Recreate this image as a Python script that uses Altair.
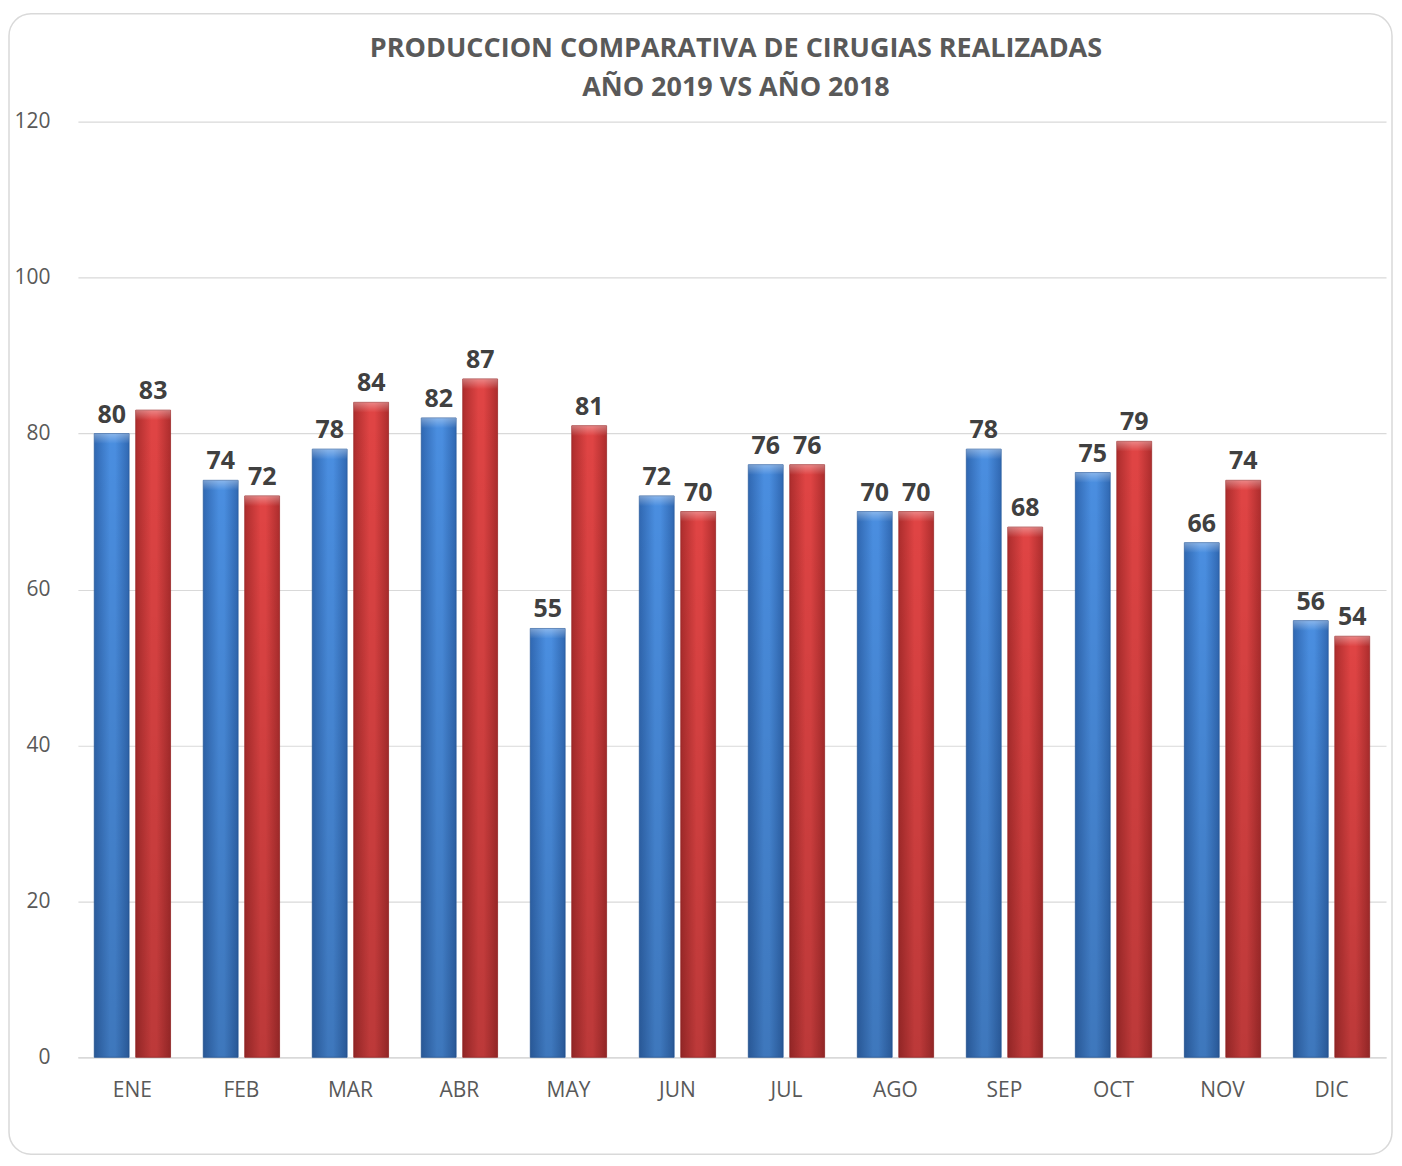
import altair as alt
import pandas as pd

months = ["ENE", "FEB", "MAR", "ABR", "MAY", "JUN", "JUL", "AGO", "SEP", "OCT", "NOV", "DIC"]
series = ["2019", "2018"]
values_2019 = [80, 74, 78, 82, 55, 72, 76, 70, 78, 75, 66, 56]
values_2018 = [83, 72, 84, 87, 81, 70, 76, 70, 68, 79, 74, 54]
title_line1 = "PRODUCCION COMPARATIVA DE CIRUGIAS REALIZADAS"
title_line2 = "AÑO 2019 VS AÑO 2018"

rows = []
for m, a, b in zip(months, values_2019, values_2018):
    rows.append({"mes": m, "serie": "2019", "valor": a})
    rows.append({"mes": m, "serie": "2018", "valor": b})
df = pd.DataFrame(rows)

FONT = "Open Sans"
W, H = 1310, 937

def hgrad(edge, mid):
    return alt.Gradient(
        gradient="linear", x1=0, x2=1, y1=0, y2=0,
        stops=[alt.GradientStop(color=edge, offset=0),
               alt.GradientStop(color=mid, offset=0.45),
               alt.GradientStop(color=mid, offset=0.6),
               alt.GradientStop(color=edge, offset=1)])

shade = alt.Gradient(
    gradient="linear", x1=0, x2=0, y1=0, y2=1,
    stops=[alt.GradientStop(color="rgba(0,0,0,0)", offset=0),
           alt.GradientStop(color="rgba(0,0,0,0.16)", offset=1)])

x_enc = alt.X("mes:N", sort=months,
              scale=alt.Scale(paddingInner=0.3, paddingOuter=0.15),
              axis=alt.Axis(title=None, labelAngle=0, labelFontSize=21, labelColor="#595959",
                            labelFont=FONT, labelPadding=22, ticks=False,
                            domainColor="#d9d9d9", domainWidth=1.5, grid=False))
xo_enc = alt.XOffset("serie:N", sort=series, scale=alt.Scale(domain=series, paddingInner=0.16))
y_enc = alt.Y("valor:Q",
              scale=alt.Scale(domain=[0, 120]),
              axis=alt.Axis(title=None, values=[0, 20, 40, 60, 80, 100, 120], labelFontSize=21,
                            labelColor="#595959", labelFont=FONT, labelPadding=28, ticks=False,
                            domain=False, gridColor="#d9d9d9", gridWidth=1.2))

base = alt.Chart(df)

blue = base.transform_filter(alt.datum.serie == "2019").mark_bar(
    color=hgrad("#3068b2", "#4a8ee0"), stroke="#2a5c9e", strokeWidth=0.8
).encode(x=x_enc, xOffset=xo_enc, y=y_enc)

red = base.transform_filter(alt.datum.serie == "2018").mark_bar(
    color=hgrad("#ad2d2d", "#e04444"), stroke="#9c2828", strokeWidth=0.8
).encode(x=x_enc, xOffset=xo_enc, y=y_enc)

shade_layer = base.mark_bar(color=shade).encode(x=x_enc, xOffset=xo_enc, y=y_enc)

bevel = base.transform_calculate(top2="datum.valor - 1.3").mark_bar(
    color=alt.Gradient(gradient="linear", x1=0, x2=0, y1=0, y2=1,
                       stops=[alt.GradientStop(color="rgba(255,255,255,0.35)", offset=0),
                              alt.GradientStop(color="rgba(255,255,255,0.0)", offset=1)])
).encode(x=x_enc, xOffset=xo_enc, y=y_enc, y2="top2:Q")

labels = base.mark_text(
    baseline="bottom", dy=-6, fontSize=25, fontWeight="bold", color="#404040", font=FONT
).encode(x=x_enc, xOffset=xo_enc, y=y_enc, text="valor:Q")

def title_text(line, ypix):
    return alt.Chart(pd.DataFrame({"t": [line]})).mark_text(
        fontSize=27, fontWeight="bold", color="#595959", font=FONT,
        baseline="middle", align="center", clip=False
    ).encode(text="t:N", x=alt.value(659), y=alt.value(ypix))

t1 = title_text(title_line1, -73)
t2 = title_text(title_line2, -34)

border = alt.Chart(pd.DataFrame({"a": [0]})).mark_rect(
    fill=None, stroke="#d9d9d9", strokeWidth=1.5, cornerRadius=22, clip=False
).encode(x=alt.value(-69), x2=alt.value(W + 6), y=alt.value(-108), y2=alt.value(H + 97))

chart = alt.layer(border, blue, red, shade_layer, bevel, labels, t1, t2).properties(
    width=W, height=H,
    autosize=alt.AutoSizeParams(type="none"),
    padding={"left": 70, "top": 113, "right": 8, "bottom": 98},
    view=alt.ViewBackground(stroke="transparent", strokeWidth=0),
).configure_view(stroke="transparent", strokeWidth=0).configure(background="white")

chart.save("out.html", embed_options={"renderer": "svg", "actions": False})
